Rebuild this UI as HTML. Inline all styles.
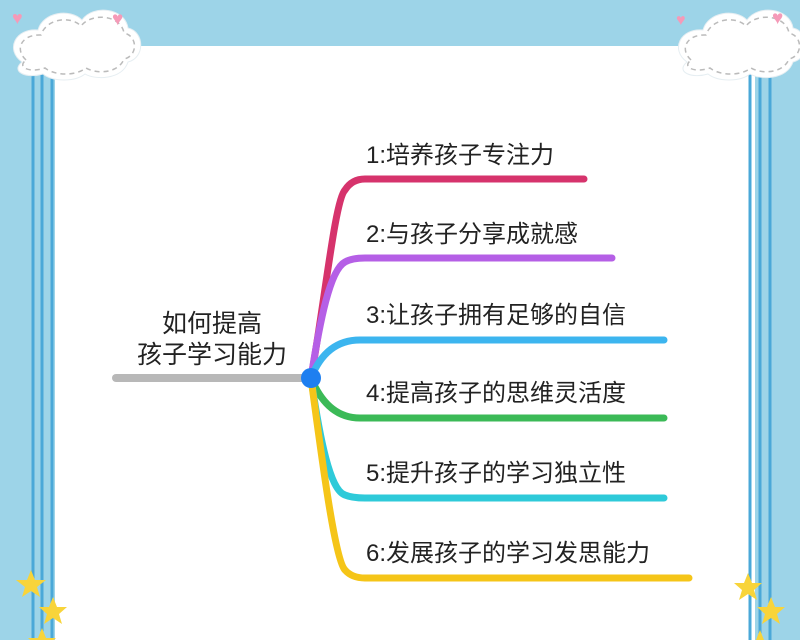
<!DOCTYPE html>
<html><head><meta charset="utf-8"><style>
body{margin:0;width:800px;height:640px;overflow:hidden;background:#9dd4e8}
svg{display:block}
text{font-family:"Liberation Sans","Noto Sans CJK SC",sans-serif;fill:#222}
</style></head><body>
<svg width="800" height="640" viewBox="0 0 800 640">
<rect width="800" height="640" fill="#9dd4e8"/>
<rect x="55" y="46" width="700" height="600" fill="#fff"/>
<g stroke="#4aa8d8" stroke-width="3">
<line x1="33" y1="60" x2="33" y2="640"/><line x1="42" y1="60" x2="42" y2="640"/><line x1="52" y1="70" x2="52" y2="640"/>
<line x1="750" y1="70" x2="750" y2="640"/><line x1="760" y1="60" x2="760" y2="640"/><line x1="770" y1="60" x2="770" y2="640"/>
</g>
<g fill="#fff" stroke="#e6eef2" stroke-width="1">
<path d="M22 62 C5 50 15 28 38 30 C43 12 70 8 82 20 C93 4 125 8 128 28 C145 32 145 58 128 62 C122 80 95 80 85 74 C75 82 53 82 43 74 C27 79 10 72 22 62Z"/>
<path d="M687 62 C670 50 680 28 703 30 C708 12 735 8 747 20 C758 4 790 8 793 28 C810 32 810 58 793 62 C787 80 760 80 750 74 C740 82 718 82 708 74 C692 79 675 72 687 62Z"/>
</g>
<g fill="none" stroke="#bbb" stroke-width="1.5" stroke-dasharray="5 4">
<path d="M26 60 C14 49 22 34 41 35 C46 19 70 15 81 26 C92 12 121 15 124 33 C138 36 138 56 124 59 C118 74 96 74 86 68 C76 76 55 76 45 68 C31 73 16 68 26 60Z"/>
<path d="M691 60 C679 49 687 34 706 35 C711 19 735 15 746 26 C757 12 786 15 789 33 C803 36 803 56 789 59 C783 74 761 74 751 68 C741 76 720 76 710 68 C696 73 681 68 691 60Z"/>
</g>
<g style="fill:#f59ab8"><text x="12" y="24" style="fill:#f59ab8;font-size:18px">♥</text><text x="112" y="25" style="fill:#f59ab8;font-size:19px">♥</text><text x="676" y="25" style="fill:#f59ab8;font-size:16px">♥</text><text x="772" y="24" style="fill:#f59ab8;font-size:19px">♥</text></g>
<g fill="#f8d43a">
<polygon points="31,570 35,580 46,580 37,587 40,597 31,591 22,597 25,587 16,580 27,580"/>
<polygon points="53,597 57,607 67,607 59,614 62,624 53,618 44,624 47,614 39,607 49,607"/>
<polygon points="42,628 46,638 56,638 48,645 51,655 42,649 33,655 36,645 28,638 38,638"/>
<polygon points="748,573 752,583 762,583 754,590 757,600 748,594 739,600 742,590 734,583 744,583"/>
<polygon points="771,597 775,607 785,607 777,614 780,624 771,618 762,624 765,614 757,607 767,607"/>
<polygon points="760,630 764,640 774,640 766,647 769,657 760,651 751,657 754,647 746,640 756,640"/>
</g>
<g fill="none" stroke-linecap="round" stroke-width="7">
<line x1="116" y1="378" x2="311" y2="378" stroke="#b8b8b8" stroke-width="8"/>
<path d="M311 378 C325 300 335 200 345 190 Q352 179 365 179 L584 179" stroke="#d6336c"/>
<path d="M311 378 C320 320 330 270 345 262 Q352 258 365 258 L612 258" stroke="#b55fe6"/>
<path d="M311 378 C320 355 335 340 360 340 L664 340" stroke="#3cb5ef"/>
<path d="M311 378 C320 400 335 418 360 418 L664 418" stroke="#3bba57"/>
<path d="M311 378 C320 440 330 490 345 495 Q352 498 365 498 L664 498" stroke="#2ecad9"/>
<path d="M311 378 C322 460 335 560 345 570 Q352 578 365 578 L689 578" stroke="#f5c518"/>
</g>
<circle cx="311" cy="378" r="10" fill="#1e7ff0"/>
<g style="font-size:24px">
<text x="212" y="332" text-anchor="middle" style="font-size:25px">如何提高</text>
<text x="212" y="363" text-anchor="middle" style="font-size:25px">孩子学习能力</text>
<text x="366" y="163">1:培养孩子专注力</text>
<text x="366" y="242">2:与孩子分享成就感</text>
<text x="366" y="323">3:让孩子拥有足够的自信</text>
<text x="366" y="401">4:提高孩子的思维灵活度</text>
<text x="366" y="481">5:提升孩子的学习独立性</text>
<text x="366" y="561">6:发展孩子的学习发思能力</text>
</g>
</svg>
</body></html>
